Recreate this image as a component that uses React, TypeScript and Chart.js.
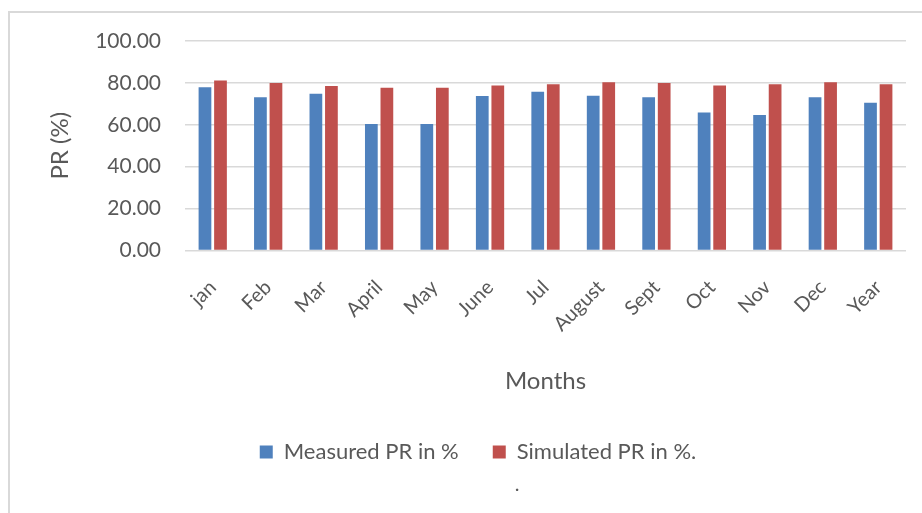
import { useEffect, useRef } from "react";
import { Chart, registerables } from "chart.js";

Chart.register(...registerables);

const categories = ["jan", "Feb", "Mar", "April", "May", "June", "Jul", "August", "Sept", "Oct", "Nov", "Dec", "Year"];
const measuredPR = [77.9, 73.1, 74.8, 60.4, 60.4, 73.7, 75.8, 73.9, 73.1, 65.9, 64.7, 73.1, 70.5];
const simulatedPR = [81.1, 80.0, 78.5, 77.7, 77.7, 78.8, 79.4, 80.3, 79.9, 78.8, 79.4, 80.3, 79.4];
const yTickValues = [0, 20, 40, 60, 80, 100];
const seriesNames = ["Measured PR in %", "Simulated PR in %."];
const footNote = ".";

const FONT = "Lato, 'Open Sans', sans-serif";
const TEXT = "#595959";

const dotPlugin = {
  id: "footDot",
  afterDraw(chart: any) {
    const lg = chart.legend;
    if (!lg || !lg.legendHitBoxes || lg.legendHitBoxes.length < 2) return;
    const hb = lg.legendHitBoxes[1];
    const ctx = chart.ctx;
    ctx.save();
    ctx.fillStyle = TEXT;
    ctx.font = `20px ${FONT}`;
    ctx.textBaseline = "middle";
    ctx.textAlign = "left";
    ctx.fillText(footNote, hb.left + 13 + 9, hb.top + hb.height / 2 + 33);
    ctx.restore();
  },
};

export default function App() {
  const ref = useRef<HTMLCanvasElement>(null);
  useEffect(() => {
    document.body.style.margin = "0";
    document.body.style.overflow = "hidden";
    const chart = new Chart(ref.current!, {
      type: "bar",
      data: {
        labels: categories,
        datasets: [
          {
            label: seriesNames[0],
            data: measuredPR,
            backgroundColor: "#4F81BD",
            categoryPercentage: 0.56,
            barPercentage: 0.82,
          },
          {
            label: seriesNames[1],
            data: simulatedPR,
            backgroundColor: "#C0504D",
            categoryPercentage: 0.56,
            barPercentage: 0.82,
          },
        ],
      },
      options: {
        animation: false,
        responsive: false,
        maintainAspectRatio: false,
        layout: { padding: { top: 41, right: 0, left: 0, bottom: 40 } },
        scales: {
          x: {
            grid: { display: false },
            border: { display: false },
            ticks: {
              minRotation: 45,
              maxRotation: 45,
              color: TEXT,
              font: { family: FONT, size: 20 },
              padding: 17,
              autoSkip: false,
            },
            title: {
              display: true,
              text: "Months",
              color: TEXT,
              font: { family: FONT, size: 24 },
              padding: { top: 14, bottom: 11 },
            },
          },
          y: {
            min: 0,
            max: 100,
            afterBuildTicks: (scale: any) => {
              scale.ticks = yTickValues.map((v) => ({ value: v }));
            },
            afterFit: (scale: any) => {
              scale.width = 185;
            },
            grid: { color: "#D9D9D9", drawTicks: false, lineWidth: 1.5 },
            border: { display: false },
            ticks: {
              color: TEXT,
              font: { family: FONT, size: 21 },
              padding: 24,
              callback: (v: any) => Number(v).toFixed(2),
            },
            title: {
              display: true,
              text: "PR (%)",
              color: TEXT,
              font: { family: FONT, size: 24 },
              padding: { top: 46, bottom: 0 },
            },
          },
          yRight: {
            position: "right",
            display: true,
            grid: { display: false },
            border: { display: false },
            ticks: { display: false },
            afterFit: (scale: any) => {
              scale.width = 50;
            },
          },
        },
        plugins: {
          legend: {
            position: "bottom",
            labels: {
              boxWidth: 13,
              boxHeight: 13,
              padding: 34,
              color: TEXT,
              font: { family: FONT, size: 22 },
            },
          },
          tooltip: { enabled: false },
        },
      },
      plugins: [dotPlugin],
    });
    return () => chart.destroy();
  }, []);
  return (
    <div style={{ position: "relative", width: 922, height: 513, overflow: "hidden", background: "#fff" }}>
      <div
        style={{
          position: "absolute",
          left: 8,
          top: 11,
          width: 1000,
          height: 600,
          borderLeft: "2px solid #D9D9D9",
          borderTop: "2px solid #D9D9D9",
        }}
      />
      <canvas
        ref={ref}
        width={956}
        height={513}
        style={{ position: "absolute", left: 0, top: 0, width: 956, height: 513 }}
      />
    </div>
  );
}
